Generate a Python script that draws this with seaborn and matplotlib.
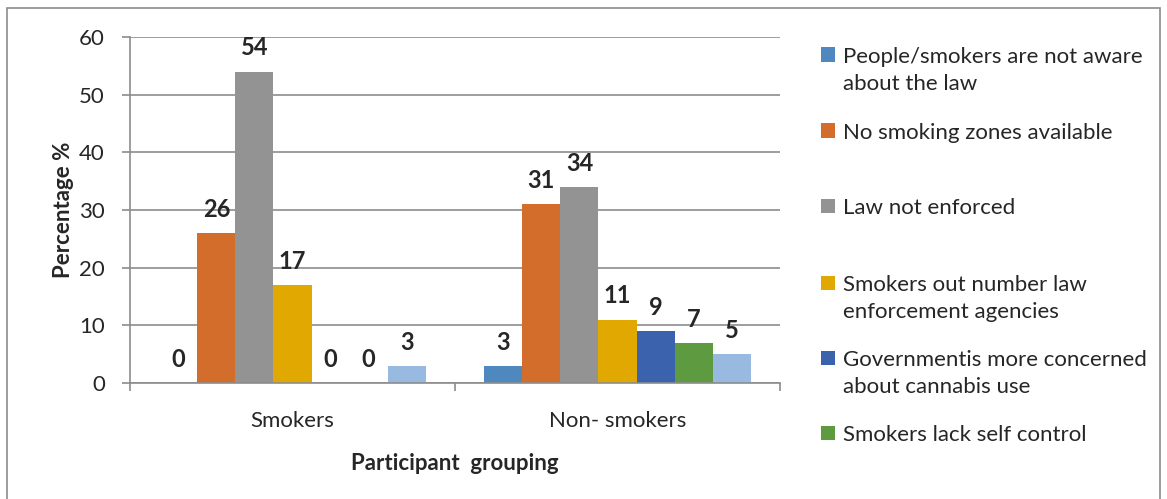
import matplotlib
matplotlib.use("Agg")
import matplotlib.pyplot as plt
import seaborn as sns
import pandas as pd
from matplotlib.patches import Rectangle

categories = ["Smokers", "Non- smokers"]
series = [
    "People/smokers are not aware\nabout the law",
    "No smoking zones available",
    "Law not enforced",
    "Smokers out number law\nenforcement agencies",
    "Governmentis more concerned\nabout cannabis use",
    "Smokers lack self control",
    "Other",
]
smokers_vals = [0, 26, 54, 17, 0, 0, 3]
nonsmokers_vals = [3, 31, 34, 11, 9, 7, 5]
colors = ["#4F88BE", "#D26D2C", "#939393", "#E0A800", "#3B62AC", "#5E9A40", "#99BAE0"]

rows = []
for s, a, b in zip(series, smokers_vals, nonsmokers_vals):
    rows.append({"group": categories[0], "series": s, "value": a})
    rows.append({"group": categories[1], "series": s, "value": b})
df = pd.DataFrame(rows)

sns.set_theme(style="white")
plt.rcParams["font.family"] = ["Lato", "DejaVu Sans"]

FS = 16

fig = plt.figure(figsize=(11.67, 4.99), dpi=100)
ax = fig.add_axes([130/1167, 1-383/499, 650/1167, 346/499])

sns.barplot(data=df, x="group", y="value", hue="series", order=categories,
            hue_order=series, palette=colors, width=0.82, legend=False,
            saturation=1, ax=ax, errorbar=None, edgecolor="none", linewidth=0)

ax.set_ylim(0, 60)
ax.set_xlim(-0.5, 1.5)
ax.set_yticks(range(0, 61, 10))
ax.yaxis.grid(True, color="#8C8C8C", linewidth=1.2)
ax.set_axisbelow(True)
for sp in ["top", "right"]:
    ax.spines[sp].set_visible(False)
for sp in ["left", "bottom"]:
    ax.spines[sp].set_color("#8C8C8C")
    ax.spines[sp].set_linewidth(1.2)
ax.tick_params(axis="y", labelsize=FS, length=6, color="#8C8C8C", width=1.2, left=True, pad=12)
ax.set_xticks([-0.5, 0.5, 1.5], minor=False)
ax.set_xticklabels(["", "", ""])
ax.tick_params(axis="x", length=6, color="#8C8C8C", width=1.2, bottom=True)
ax.set_xticks([0, 1], minor=True)
ax.set_xticklabels(categories, minor=True)
ax.tick_params(axis="x", which="minor", length=0, labelsize=FS, pad=20)
ax.set_xlabel("Participant  grouping", fontsize=FS, fontweight="bold", labelpad=16)
ax.set_ylabel("Percentage %", fontsize=FS, fontweight="bold", labelpad=4)

# data labels
for container in ax.containers:
    for bar in container:
        h = bar.get_height()
        ax.annotate(f"{h:g}", (bar.get_x() + bar.get_width()/2, h),
                    xytext=(0, 17), textcoords="offset points",
                    ha="center", va="center", fontsize=17, fontweight="bold")

# outer border
fig.patches.append(Rectangle((7/1167, -0.01), 1153/1167, 1-8/499+0.01,
                             transform=fig.transFigure, fill=False,
                             edgecolor="#8C8C8C", linewidth=1.2))

# legend (manual, Excel-style spacing); y = centre of first text line
legend_y = [55, 131, 206, 283, 358, 433]
for y, s, c in zip(legend_y, series[:6], colors[:6]):
    fig.patches.append(Rectangle((821/1167, 1-(y+6.5)/499), 14/1167, 14/499,
                                 transform=fig.transFigure, facecolor=c,
                                 edgecolor="none"))
    fig.text(843/1167, 1-(y-8)/499, s, fontsize=FS, va="top", ha="left",
             linespacing=1.45)

fig.savefig("out.png", dpi=100)
